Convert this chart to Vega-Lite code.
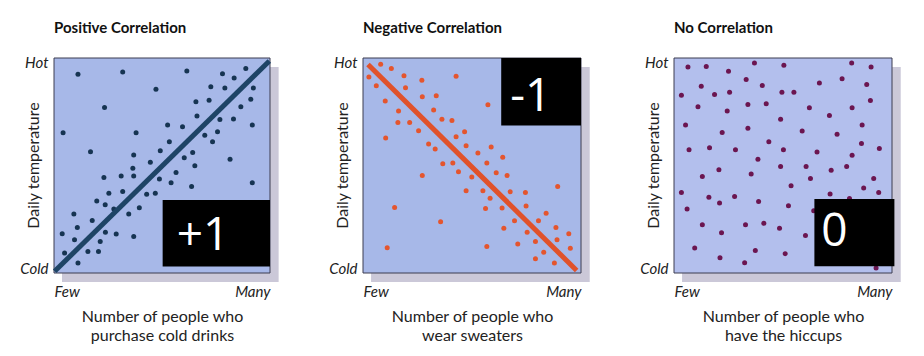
{
  "$schema": "https://vega.github.io/schema/vega-lite/v6.json",
  "background": "white",
  "padding": {"left": 19, "top": 21, "right": 5, "bottom": 5},
  "datasets": {
    "shadow": [{"x": 3.7, "x2": 104, "y": -4.2, "y2": 95.8}],
    "frame": [{"x": 0, "x2": 100, "y": 0, "y2": 100}],
    "pos": [
      {"x": 11.1, "y": 92.4}, {"x": 31.8, "y": 93.5}, {"x": 61.5, "y": 94.0}, {"x": 88.8, "y": 95.1},
      {"x": 78.0, "y": 92.7}, {"x": 83.4, "y": 90.7}, {"x": 47.2, "y": 85.5}, {"x": 72.6, "y": 86.6},
      {"x": 79.1, "y": 86.1}, {"x": 92.3, "y": 86.1}, {"x": 23.4, "y": 77.0}, {"x": 65.7, "y": 79.6},
      {"x": 71.8, "y": 80.4}, {"x": 91.1, "y": 80.8}, {"x": 86.5, "y": 77.3}, {"x": 4.2, "y": 65.2},
      {"x": 38.0, "y": 65.2}, {"x": 52.6, "y": 68.8}, {"x": 59.5, "y": 68.0}, {"x": 66.2, "y": 73.0},
      {"x": 76.8, "y": 71.4}, {"x": 83.1, "y": 71.6}, {"x": 91.8, "y": 68.8}, {"x": 69.8, "y": 64.1},
      {"x": 75.7, "y": 65.7}, {"x": 73.4, "y": 61.1}, {"x": 53.4, "y": 61.1}, {"x": 16.9, "y": 56.4},
      {"x": 36.9, "y": 54.9}, {"x": 49.2, "y": 56.9}, {"x": 60.3, "y": 53.6}, {"x": 64.2, "y": 56.0},
      {"x": 65.2, "y": 49.9}, {"x": 44.6, "y": 51.5}, {"x": 36.5, "y": 48.7}, {"x": 36.9, "y": 45.1},
      {"x": 31.1, "y": 45.1}, {"x": 23.1, "y": 44.4}, {"x": 48.8, "y": 43.7}, {"x": 56.5, "y": 46.8},
      {"x": 54.2, "y": 42.0}, {"x": 63.7, "y": 40.2}, {"x": 81.5, "y": 52.9}, {"x": 91.8, "y": 42.0},
      {"x": 25.4, "y": 37.1}, {"x": 31.8, "y": 37.9}, {"x": 42.9, "y": 36.6}, {"x": 46.9, "y": 37.1},
      {"x": 19.8, "y": 33.5}, {"x": 23.7, "y": 31.7}, {"x": 27.7, "y": 29.8}, {"x": 39.5, "y": 30.4},
      {"x": 34.6, "y": 27.5}, {"x": 9.2, "y": 27.4}, {"x": 10.8, "y": 21.2}, {"x": 17.7, "y": 24.4},
      {"x": 23.8, "y": 18.9}, {"x": 28.8, "y": 18.1}, {"x": 36.9, "y": 17.0}, {"x": 3.8, "y": 18.2},
      {"x": 9.5, "y": 15.5}, {"x": 21.4, "y": 14.7}, {"x": 4.9, "y": 9.3}, {"x": 15.7, "y": 10.0},
      {"x": 20.6, "y": 10.0}, {"x": 11.1, "y": 4.6}
    ],
    "posline": [{"x": 0.3, "y": 0.8}, {"x": 99.7, "y": 98.6}],
    "neg": [
      {"x": 2.7, "y": 91.2}, {"x": 8.1, "y": 97.1}, {"x": 13.0, "y": 95.1}, {"x": 6.1, "y": 87.1},
      {"x": 10.2, "y": 80.0}, {"x": 18.8, "y": 91.7}, {"x": 19.5, "y": 86.2}, {"x": 27.0, "y": 89.7},
      {"x": 27.2, "y": 82.0}, {"x": 33.6, "y": 82.5}, {"x": 42.7, "y": 91.5}, {"x": 16.3, "y": 75.4},
      {"x": 16.0, "y": 70.0}, {"x": 21.4, "y": 70.0}, {"x": 32.4, "y": 75.8}, {"x": 36.2, "y": 71.5},
      {"x": 40.8, "y": 70.9}, {"x": 25.5, "y": 66.2}, {"x": 10.4, "y": 62.8}, {"x": 42.7, "y": 63.4},
      {"x": 46.6, "y": 65.7}, {"x": 30.1, "y": 60.0}, {"x": 33.1, "y": 57.7}, {"x": 47.3, "y": 59.2},
      {"x": 52.7, "y": 55.8}, {"x": 58.8, "y": 58.6}, {"x": 36.6, "y": 50.8}, {"x": 41.2, "y": 51.2},
      {"x": 43.8, "y": 47.1}, {"x": 49.9, "y": 44.6}, {"x": 56.8, "y": 51.2}, {"x": 61.1, "y": 46.6},
      {"x": 64.1, "y": 53.8}, {"x": 66.1, "y": 45.4}, {"x": 27.2, "y": 45.4}, {"x": 57.3, "y": 78.2},
      {"x": 47.3, "y": 38.2}, {"x": 55.0, "y": 38.2}, {"x": 58.3, "y": 34.8}, {"x": 56.2, "y": 30.0},
      {"x": 63.8, "y": 30.2}, {"x": 67.5, "y": 37.8}, {"x": 74.5, "y": 37.4}, {"x": 74.8, "y": 31.2},
      {"x": 64.6, "y": 20.8}, {"x": 69.5, "y": 24.3}, {"x": 75.3, "y": 18.9}, {"x": 80.5, "y": 24.3},
      {"x": 84.0, "y": 27.8}, {"x": 89.3, "y": 40.2}, {"x": 14.5, "y": 30.5}, {"x": 35.6, "y": 23.8},
      {"x": 11.1, "y": 11.7}, {"x": 56.8, "y": 12.3}, {"x": 71.0, "y": 13.5}, {"x": 79.1, "y": 14.6},
      {"x": 82.9, "y": 9.7}, {"x": 79.1, "y": 6.6}, {"x": 87.8, "y": 4.6}, {"x": 89.0, "y": 15.5},
      {"x": 88.5, "y": 21.2}, {"x": 94.4, "y": 18.2}, {"x": 95.1, "y": 11.5}
    ],
    "negline": [{"x": 2.3, "y": 97.0}, {"x": 98.0, "y": 1.2}],
    "none": [
      {"x": 6.4, "y": 95.8}, {"x": 14.8, "y": 96.1}, {"x": 25.0, "y": 93.8}, {"x": 36.9, "y": 97.7},
      {"x": 50.4, "y": 96.6}, {"x": 81.5, "y": 97.7}, {"x": 90.4, "y": 95.8}, {"x": 12.5, "y": 86.9},
      {"x": 18.6, "y": 83.0}, {"x": 3.4, "y": 82.7}, {"x": 25.5, "y": 84.1}, {"x": 33.1, "y": 90.0},
      {"x": 40.5, "y": 87.2}, {"x": 49.5, "y": 84.1}, {"x": 55.0, "y": 84.1}, {"x": 66.7, "y": 88.4},
      {"x": 77.1, "y": 90.3}, {"x": 88.4, "y": 87.7}, {"x": 90.1, "y": 80.2}, {"x": 11.0, "y": 77.3},
      {"x": 24.4, "y": 75.3}, {"x": 33.9, "y": 78.4}, {"x": 42.3, "y": 78.7}, {"x": 48.9, "y": 71.5},
      {"x": 62.1, "y": 76.9}, {"x": 71.3, "y": 73.3}, {"x": 81.7, "y": 76.9}, {"x": 5.3, "y": 68.8},
      {"x": 22.1, "y": 65.3}, {"x": 33.9, "y": 67.3}, {"x": 58.8, "y": 66.0}, {"x": 74.8, "y": 64.5},
      {"x": 86.3, "y": 68.8}, {"x": 6.9, "y": 57.3}, {"x": 16.3, "y": 58.3}, {"x": 28.2, "y": 57.3},
      {"x": 38.5, "y": 52.9}, {"x": 43.5, "y": 61.0}, {"x": 50.2, "y": 57.3}, {"x": 65.6, "y": 56.3},
      {"x": 86.0, "y": 60.2}, {"x": 94.2, "y": 57.9}, {"x": 81.7, "y": 54.8}, {"x": 13.0, "y": 44.9},
      {"x": 20.6, "y": 48.0}, {"x": 35.4, "y": 46.0}, {"x": 48.9, "y": 49.5}, {"x": 60.6, "y": 49.5},
      {"x": 62.6, "y": 44.0}, {"x": 72.1, "y": 47.8}, {"x": 79.2, "y": 49.5}, {"x": 91.6, "y": 44.0},
      {"x": 3.4, "y": 37.5}, {"x": 16.0, "y": 35.2}, {"x": 20.9, "y": 32.6}, {"x": 27.8, "y": 35.6},
      {"x": 38.8, "y": 33.2}, {"x": 53.7, "y": 40.6}, {"x": 87.0, "y": 39.5}, {"x": 93.9, "y": 37.5},
      {"x": 6.0, "y": 29.8}, {"x": 52.5, "y": 31.3}, {"x": 13.0, "y": 22.4}, {"x": 21.8, "y": 18.7},
      {"x": 32.8, "y": 22.4}, {"x": 41.2, "y": 23.1}, {"x": 48.4, "y": 20.8}, {"x": 9.5, "y": 11.6},
      {"x": 21.1, "y": 7.1}, {"x": 32.4, "y": 4.8}, {"x": 37.3, "y": 10.5}, {"x": 51.0, "y": 9.0},
      {"x": 60.3, "y": 17.4}, {"x": 71.6, "y": 36.7}, {"x": 64.1, "y": 29.0}, {"x": 80.5, "y": 34.7},
      {"x": 92.7, "y": 2.3}
    ],
    "box1": [{"x": 50.3, "x2": 100, "y": 3, "y2": 34, "tx": 69, "ty": 17, "label": "+1"}],
    "box2": [{"x": 63.4, "x2": 100, "y": 68.6, "y2": 100, "tx": 77, "ty": 82, "label": "-1"}],
    "box3": [{"x": 64.4, "x2": 101.1, "y": 3.1, "y2": 34.4, "tx": 73.6, "ty": 19, "label": "0"}]
  },
  "hconcat": [
    {
      "width": 216, "height": 215,
      "title": {"text": "Positive Correlation"},
      "encoding": {
        "x": {"field": "x", "type": "quantitative", "scale": {"domain": [0, 100], "nice": false, "zero": false},
              "axis": {"values": [0, 100], "labelExpr": "datum.value == 0 ? 'Few' : 'Many'", "title": ["Number of people who", "purchase cold drinks"]}},
        "y": {"field": "y", "type": "quantitative", "scale": {"domain": [0, 100], "nice": false, "zero": false},
              "axis": {"values": [0, 100], "labelExpr": "datum.value == 0 ? 'Cold' : 'Hot'", "title": "Daily temperature"}}
      },
      "layer": [
        {"data": {"name": "shadow"}, "mark": {"type": "rect", "fill": "#cbc8d8"}, "encoding": {"x2": {"field": "x2"}, "y2": {"field": "y2"}}},
        {"data": {"name": "frame"}, "mark": {"type": "rect", "fill": "#a7b8e8", "stroke": "#3c3c50", "strokeWidth": 1}, "encoding": {"x2": {"field": "x2"}, "y2": {"field": "y2"}}},
        {"data": {"name": "pos"}, "mark": {"type": "circle", "size": 25, "opacity": 1, "color": "#163452"}},
        {"data": {"name": "posline"}, "mark": {"type": "line", "color": "#1e4466", "strokeWidth": 5, "strokeCap": "butt", "strokeJoin": "round"}},
        {"data": {"name": "box1"}, "mark": {"type": "rect", "fill": "black"}, "encoding": {"x2": {"field": "x2"}, "y2": {"field": "y2"}}},
        {"data": {"name": "box1"}, "mark": {"type": "text", "color": "white", "fontSize": 46, "font": "Open Sans", "baseline": "middle", "align": "center"},
         "encoding": {"x": {"field": "tx", "type": "quantitative"}, "y": {"field": "ty", "type": "quantitative"}, "text": {"field": "label"}}}
      ]
    },
    {
      "width": 218, "height": 215,
      "title": {"text": "Negative Correlation"},
      "encoding": {
        "x": {"field": "x", "type": "quantitative", "scale": {"domain": [0, 100], "nice": false, "zero": false},
              "axis": {"values": [0, 100], "labelExpr": "datum.value == 0 ? 'Few' : 'Many'", "title": ["Number of people who", "wear sweaters"]}},
        "y": {"field": "y", "type": "quantitative", "scale": {"domain": [0, 100], "nice": false, "zero": false},
              "axis": {"values": [0, 100], "labelExpr": "datum.value == 0 ? 'Cold' : 'Hot'", "title": "Daily temperature"}}
      },
      "layer": [
        {"data": {"name": "shadow"}, "mark": {"type": "rect", "fill": "#cbc8d8"}, "encoding": {"x2": {"field": "x2"}, "y2": {"field": "y2"}}},
        {"data": {"name": "frame"}, "mark": {"type": "rect", "fill": "#a7b8e8", "stroke": "#3c3c50", "strokeWidth": 1}, "encoding": {"x2": {"field": "x2"}, "y2": {"field": "y2"}}},
        {"data": {"name": "neg"}, "mark": {"type": "circle", "size": 25, "opacity": 1, "color": "#e4552e"}},
        {"data": {"name": "negline"}, "mark": {"type": "line", "color": "#e0522b", "strokeWidth": 5, "strokeCap": "butt", "strokeJoin": "round"}},
        {"data": {"name": "box2"}, "mark": {"type": "rect", "fill": "black"}, "encoding": {"x2": {"field": "x2"}, "y2": {"field": "y2"}}},
        {"data": {"name": "box2"}, "mark": {"type": "text", "color": "white", "fontSize": 46, "font": "Open Sans", "baseline": "middle", "align": "center"},
         "encoding": {"x": {"field": "tx", "type": "quantitative"}, "y": {"field": "ty", "type": "quantitative"}, "text": {"field": "label"}}}
      ]
    },
    {
      "width": 218, "height": 215,
      "title": {"text": "No Correlation"},
      "encoding": {
        "x": {"field": "x", "type": "quantitative", "scale": {"domain": [0, 100], "nice": false, "zero": false},
              "axis": {"values": [0, 100], "labelExpr": "datum.value == 0 ? 'Few' : 'Many'", "title": ["Number of people who", "have the hiccups"]}},
        "y": {"field": "y", "type": "quantitative", "scale": {"domain": [0, 100], "nice": false, "zero": false},
              "axis": {"values": [0, 100], "labelExpr": "datum.value == 0 ? 'Cold' : 'Hot'", "title": "Daily temperature"}}
      },
      "layer": [
        {"data": {"name": "shadow"}, "mark": {"type": "rect", "fill": "#cbc8d8"}, "encoding": {"x2": {"field": "x2"}, "y2": {"field": "y2"}}},
        {"data": {"name": "frame"}, "mark": {"type": "rect", "fill": "#b3bfed", "stroke": "#3c3c50", "strokeWidth": 1}, "encoding": {"x2": {"field": "x2"}, "y2": {"field": "y2"}}},
        {"data": {"name": "none"}, "mark": {"type": "circle", "size": 25, "opacity": 1, "color": "#6b1550"}},
        {"data": {"name": "box3"}, "mark": {"type": "rect", "fill": "black"}, "encoding": {"x2": {"field": "x2"}, "y2": {"field": "y2"}}},
        {"data": {"name": "box3"}, "mark": {"type": "text", "color": "white", "fontSize": 46, "font": "Open Sans", "baseline": "middle", "align": "center"},
         "encoding": {"x": {"field": "tx", "type": "quantitative"}, "y": {"field": "ty", "type": "quantitative"}, "text": {"field": "label"}}}
      ]
    }
  ],
  "spacing": 93,
  "bounds": "flush",
  "config": {
    "view": {"stroke": null},
    "title": {"anchor": "start", "frame": "group", "font": "Lato", "fontSize": 15, "fontWeight": "bold", "color": "#111111", "offset": 19},
    "axis": {
      "domain": false, "ticks": false, "grid": false, "labelFlush": true,
      "labelFont": "Lato", "labelFontSize": 15, "labelFontStyle": "italic", "labelColor": "#222222",
      "titleFont": "Lato", "titleFontSize": 16, "titleFontWeight": "normal", "titleColor": "#222222", "titleLineHeight": 19
    },
    "axisX": {"labelPadding": 11, "titlePadding": 9},
    "axisY": {"labelPadding": 6, "labelFlushOffset": 3, "titleX": -21, "titleY": 107, "titleAngle": -90, "titleAlign": "center", "titleBaseline": "middle"}
  }
}
